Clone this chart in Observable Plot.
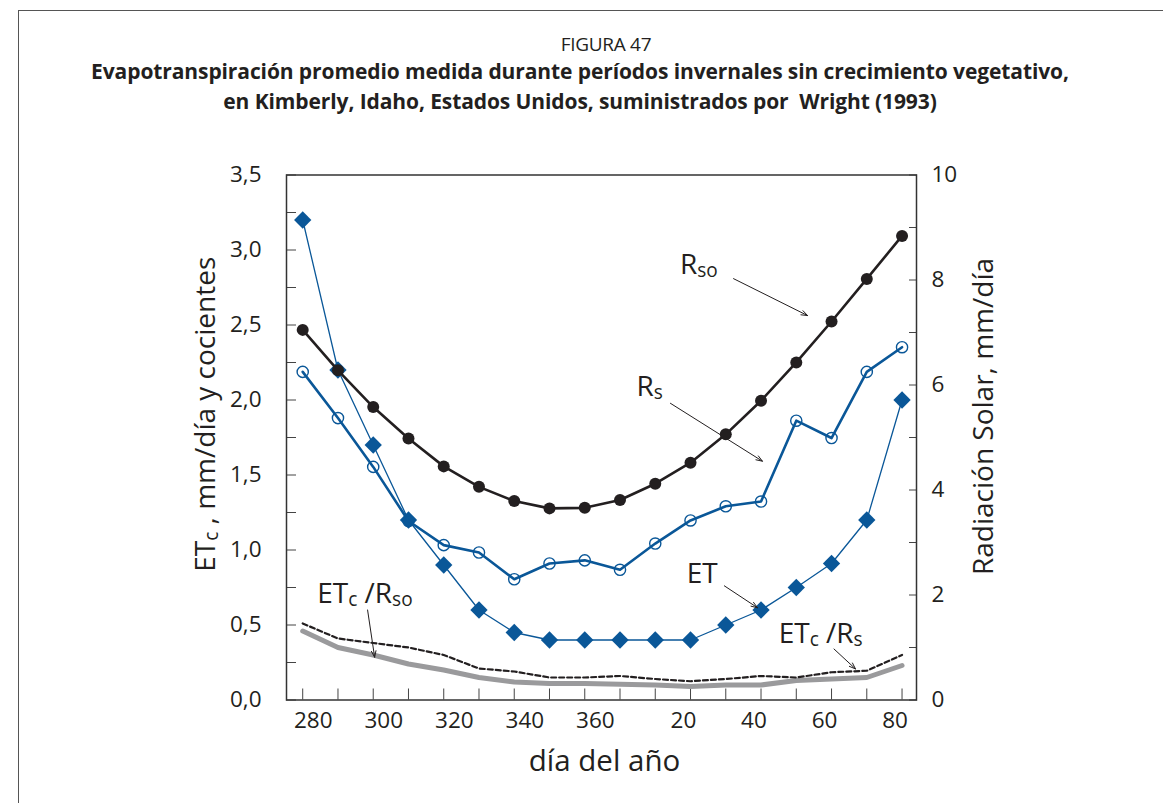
<!DOCTYPE html>
<html><head><meta charset="utf-8">
<script src="https://cdn.jsdelivr.net/npm/d3@7"></script>
<script src="https://cdn.jsdelivr.net/npm/@observablehq/plot@0.6"></script>
<style>
body{margin:0;background:#fff;}
#fig{position:relative;width:1163px;height:803px;overflow:hidden;font-family:"Open Sans",sans-serif;color:#231f20;background:#fff;}
#border{position:absolute;left:18px;top:10px;width:1300px;height:900px;border-left:1.5px solid #555;border-top:1.5px solid #555;}
.t{position:absolute;transform:translateX(-50%);white-space:nowrap;text-align:center;}
#fignum{left:606px;top:29px;font-size:19px;line-height:30px;letter-spacing:-0.3px;}
#title{left:580px;top:56px;font-size:21px;line-height:30px;font-weight:700;letter-spacing:-0.1px;}
#chart{position:absolute;left:0;top:140px;}
</style></head><body>
<div id="fig">
<div id="border"></div>
<div class="t" id="fignum">FIGURA 47</div>
<div class="t" id="title">Evapotranspiración promedio medida durante períodos invernales sin crecimiento vegetativo,<br>en Kimberly, Idaho, Estados Unidos, suministrados por&nbsp; Wright (1993)</div>
<div id="chart"></div>
</div>
<script>
// día del año (continuous: values above 365 belong to the next year)
const days = [277, 287, 297, 307, 317, 327, 337, 347, 357, 367, 377, 387, 397, 407, 417, 427, 437, 447];
// Radiación solar, mm/día (right axis)
const rso = [7.05, 6.28, 5.58, 4.98, 4.45, 4.06, 3.79, 3.65, 3.66, 3.81, 4.12, 4.52, 5.06, 5.70, 6.43, 7.21, 8.02, 8.84];
const rs  = [6.25, 5.37, 4.44, 3.41, 2.95, 2.81, 2.30, 2.60, 2.66, 2.48, 2.98, 3.42, 3.69, 3.78, 5.32, 4.99, 6.25, 6.72];
// ET, mm/día and ratios (left axis)
const et     = [3.2, 2.2, 1.7, 1.2, 0.9, 0.6, 0.45, 0.4, 0.4, 0.4, 0.4, 0.4, 0.5, 0.6, 0.75, 0.91, 1.2, 2.0];
const etcRs  = [0.51, 0.41, 0.38, 0.35, 0.30, 0.21, 0.19, 0.15, 0.15, 0.16, 0.14, 0.125, 0.14, 0.16, 0.15, 0.185, 0.195, 0.30];
const etcRso = [0.46, 0.35, 0.30, 0.24, 0.20, 0.15, 0.12, 0.11, 0.11, 0.105, 0.10, 0.09, 0.10, 0.10, 0.13, 0.14, 0.15, 0.23];
// tick labels
const dayTicks = [280, 300, 320, 340, 360, 385, 405, 425, 445];
const dayTickLabels = ["280", "300", "320", "340", "360", "20", "40", "60", "80"];
const leftTicks = [0, 0.5, 1, 1.5, 2, 2.5, 3, 3.5];
const leftMinorTicks = [0, 0.25, 0.5, 0.75, 1, 1.25, 1.5, 1.75, 2, 2.25, 2.5, 2.75, 3, 3.25, 3.5];
const rightTicks = [0, 2, 4, 6, 8, 10];
const rightMinorTicks = [0, 1, 2, 3, 4, 5, 6, 7, 8, 9, 10];

const K = 3.5 / 10; // right axis (0–10) mapped onto left axis (0–3,5)
const BLUE = "#0a5798", INK = "#231f20";
const labelMap = new Map(dayTicks.map((d, i) => [d, dayTickLabels[i]]));
const rows = days.map((d, i) => ({day: d, rso: rso[i] * K, rs: rs[i] * K, et: et[i], etcRs: etcRs[i], etcRso: etcRso[i]}));

const notes = [
  {x: 384.0, y: 2.842, t: "R{so}"},
  {x: 371.7, y: 2.025, t: "R{s}"},
  {x: 385.9, y: 0.781, t: "ET"},
  {x: 412.0, y: 0.382, t: "ET{c} /R{s}"},
  {x: 281.1, y: 0.650, t: "ET{c} /R{so}"}
];
const pointers = [
  {x1: 399.2, y1: 2.809, x2: 420.2, y2: 2.563},
  {x1: 381.3, y1: 1.978, x2: 407.4, y2: 1.592},
  {x1: 396.6, y1: 0.761, x2: 406.0, y2: 0.615},
  {x1: 427.7, y1: 0.340, x2: 433.8, y2: 0.207},
  {x1: 295.4, y1: 0.600, x2: 297.4, y2: 0.285}
];

const chart = Plot.plot({
  width: 1163, height: 663,
  marginTop: 34.5, marginBottom: 103.5, marginLeft: 286, marginRight: 247,
  style: {fontFamily: "'Open Sans', sans-serif", color: INK, background: "transparent", overflow: "visible"},
  x: {domain: [272.4, 451.1]},
  y: {domain: [0, 3.5]},
  marks: [
    // axes
    Plot.axisY({ticks: leftMinorTicks, anchor: "left", tickSize: 10, dx: 10, tickFormat: () => "", label: null, stroke: "#444"}),
    Plot.axisY({ticks: leftTicks, anchor: "left", tickSize: 0, tickPadding: 25, tickFormat: d => d.toFixed(1).replace(".", ","), fontSize: 22.5, label: null}),
    Plot.axisY({ticks: rightMinorTicks.map(v => v * K), anchor: "right", tickSize: 8, dx: -8, tickFormat: () => "", label: null, stroke: "#444"}),
    Plot.axisY({ticks: rightTicks.map(v => v * K), anchor: "right", tickSize: 0, tickPadding: 15, tickFormat: d => String(Math.round(d / K)), fontSize: 22.5, label: null}),
    Plot.axisX({ticks: days, anchor: "bottom", tickSize: 11, dy: -11, tickFormat: () => "", label: null, stroke: "#444"}),
    Plot.axisX({ticks: dayTicks, anchor: "bottom", tickSize: 0, tickPadding: 12, tickFormat: d => labelMap.get(d), fontSize: 22.5, label: null}),
    // axis titles
    Plot.text([{y: 1.905}], {y: "y", frameAnchor: "left", dx: -80, rotate: -90, text: () => "ET{c} , mm/día y cocientes", fontSize: 28, textAnchor: "middle", lineAnchor: "middle", fill: INK}),
    Plot.text([{y: 1.89}], {y: "y", frameAnchor: "right", dx: 68, rotate: -90, text: () => "Radiación Solar, mm/día", fontSize: 28, textAnchor: "middle", lineAnchor: "middle", fill: INK}),
    Plot.text([{x: 362.6}], {x: "x", frameAnchor: "bottom", dy: 71, text: () => "día del año", fontSize: 29.5, textAnchor: "middle", lineAnchor: "bottom", fill: INK}),
    // series
    Plot.line(rows, {x: "day", y: "etcRso", stroke: "#9a9a9c", strokeWidth: 5}),
    Plot.line(rows, {x: "day", y: "etcRs", stroke: INK, strokeWidth: 2.2, strokeDasharray: "5,3"}),
    Plot.line(rows, {x: "day", y: "et", stroke: BLUE, strokeWidth: 1.3}),
    Plot.dot(rows, {x: "day", y: "et", symbol: "diamond2", r: 7.8, fill: BLUE, stroke: "none"}),
    Plot.line(rows, {x: "day", y: "rs", stroke: BLUE, strokeWidth: 2.6}),
    Plot.dot(rows, {x: "day", y: "rs", r: 5.6, fill: "none", stroke: BLUE, strokeWidth: 1.4}),
    Plot.line(rows, {x: "day", y: "rso", stroke: INK, strokeWidth: 2.6}),
    Plot.dot(rows, {x: "day", y: "rso", r: 6, fill: INK, stroke: "none"}),
    // annotations
    Plot.arrow(pointers, {x1: "x1", y1: "y1", x2: "x2", y2: "y2", stroke: INK, strokeWidth: 1, headLength: 10, headAngle: 40}),
    Plot.text(notes, {x: "x", y: "y", text: "t", textAnchor: "start", lineAnchor: "bottom", fontSize: 28, fill: INK}),
    Plot.frame({stroke: "#333", strokeWidth: 1.5})
  ]
});

// subscripts: parts written as {..} become smaller, lowered tspans
const NS = "http://www.w3.org/2000/svg";
chart.querySelectorAll("text").forEach(t => {
  const s = t.textContent;
  if (!s.includes("{")) return;
  t.textContent = "";
  let lowered = false;
  for (const p of s.split(/(\{[^}]*\})/)) {
    if (!p) continue;
    const ts = document.createElementNS(NS, "tspan");
    if (p.startsWith("{")) {
      ts.textContent = p.slice(1, -1);
      ts.setAttribute("font-size", "0.68em");
      if (!lowered) { ts.setAttribute("dy", "3"); lowered = true; }
    } else {
      ts.textContent = p;
      if (lowered) { ts.setAttribute("dy", "-3"); lowered = false; }
    }
    t.appendChild(ts);
  }
});
document.getElementById("chart").appendChild(chart);
</script>
</body></html>
